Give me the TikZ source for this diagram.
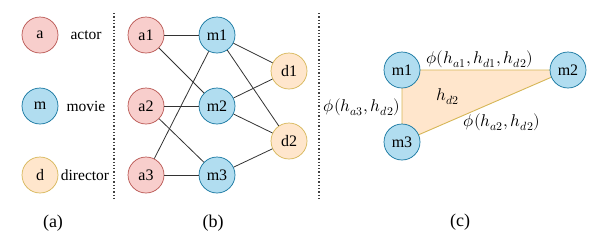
\documentclass[tikz,border=0pt]{standalone}
\usepackage{fontspec}
\setmainfont{Liberation Serif}
\usepackage{unicode-math}
\setmathfont{Latin Modern Math}
\definecolor{rfill}{HTML}{F8CECC}\definecolor{rline}{HTML}{B85450}
\definecolor{bfill}{HTML}{B1DDF0}\definecolor{bline}{HTML}{10739E}
\definecolor{ofill}{HTML}{FFE6CC}\definecolor{oline}{HTML}{D6B656}
\begin{document}
\begin{tikzpicture}[x=1pt,y=-1pt,
  base/.style={circle,minimum size=36pt,inner sep=0pt,line width=0.7pt,font=\fontsize{16}{18}\selectfont},
  actorn/.style={base,fill=rfill,draw=rline},
  movien/.style={base,fill=bfill,draw=bline},
  dirn/.style={base,fill=ofill,draw=oline},
  lbl/.style={font=\fontsize{15.5}{17}\selectfont,inner sep=0pt},
  captxt/.style={font=\fontsize{18}{20}\selectfont,inner sep=0pt},
  edge/.style={line width=0.8pt,draw=black!80},
  sep/.style={line width=1.3pt,dotted,draw=black!75},
  mlbl/.style={font=\fontsize{17}{19}\selectfont,inner sep=0pt}]
\useasboundingbox (0,0) rectangle (610,250);
% (a) legend
\node[actorn] (la) at (40,35) {a};
\node[movien] (lm) at (40,106) {m};
\node[dirn] (ld) at (40,175) {d};
\node[lbl] (ta) at (86,35) {actor};
\node[lbl] (tm) at (86,106) {movie};
\node[lbl] (td) at (85,175) {director};
\coordinate (s1a) at (114,13); \coordinate (s1b) at (114,199);
\draw[sep] (s1a) -- (s1b);
\coordinate (s2a) at (319,13); \coordinate (s2b) at (319,199);
\draw[sep] (s2a) -- (s2b);
% (b)
\node[actorn] (a1) at (146,35) {a1};
\node[actorn] (a2) at (146,106) {a2};
\node[actorn] (a3) at (146,175) {a3};
\node[movien] (m1) at (217,35) {m1};
\node[movien] (m2) at (217,106) {m2};
\node[movien] (m3) at (217,175) {m3};
\node[dirn] (d1) at (289,71) {d1};
\node[dirn] (d2) at (289,141) {d2};
\draw[edge] (a1) -- (m1); \draw[edge] (a1) -- (m2);
\draw[edge] (a2) -- (m2); \draw[edge] (a2) -- (m3);
\draw[edge] (a3) -- (m3); \draw[edge] (a3) -- (m1);
\draw[edge] (m1) -- (d1); \draw[edge] (m1) -- (d2);
\draw[edge] (m2) -- (d1); \draw[edge] (m2) -- (d2);
\draw[edge] (m3) -- (d2);
% (c)
\coordinate (c1) at (402,70); \coordinate (c2) at (568,70); \coordinate (c3) at (402,142);
\fill[ofill] (c1) -- (c2) -- (c3) -- cycle;
\draw[line width=0.9pt,oline] (c1) -- (c2) -- (c3) -- cycle;
\node[movien] (n1) at (c1) {m1};
\node[movien] (n2) at (c2) {m2};
\node[movien] (n3) at (c3) {m3};
\node[mlbl] (l12) at (480,59) {$\phi(h_{a1},h_{d1},h_{d2})$};
\node[mlbl] (lin) at (448,97) {$h_{d2}$};
\node[mlbl] (l13) at (362,107) {$\phi(h_{a3},h_{d2})$};
\node[mlbl] (l23) at (502,122) {$\phi(h_{a2},h_{d2})$};
% captions
\node[captxt] (ca) at (53,223) {(a)};
\node[captxt] (cb) at (213,223) {(b)};
\node[captxt] (cc) at (460,222) {(c)};
\end{tikzpicture}
\end{document}
